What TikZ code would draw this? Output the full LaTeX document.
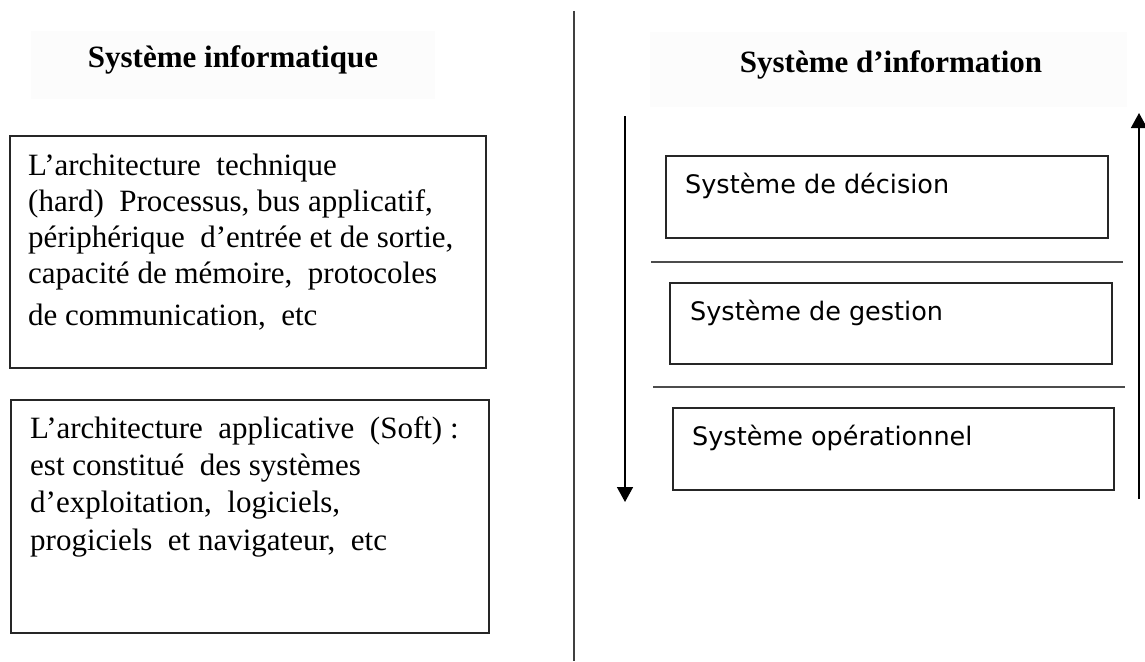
\documentclass[tikz,border=0pt]{standalone}
\usepackage{fontspec}
\setmainfont{Liberation Serif}
\newfontfamily\levelfont{DejaVu Sans}
\usetikzlibrary{arrows.meta}

\begin{document}
\begin{tikzpicture}[x=1pt,y=-1pt,
  frame/.style={draw=black!85, line width=1.6pt, inner sep=0pt, anchor=north west},
  band/.style={fill=black!1, draw=none},
  heading/.style={font=\fontsize{31}{36}\selectfont\bfseries, inner sep=0pt, anchor=base},
  body/.style={align=left, inner sep=0pt, anchor=base west},
  leveltext/.style={font=\levelfont\fontsize{25.5}{30}\selectfont, inner sep=0pt, anchor=base west},
  flow/.style={line width=1.6pt, draw=black, -{Triangle[width=16pt,length=15pt]}},
  rulestyle/.style={line width=1.6pt, draw=black!70}]

\useasboundingbox (0,0) rectangle (1145,661);
\fill[white] (0,0) rectangle (1145,661);

% heading bands
\fill[band] (31,31) rectangle (435,99);
\fill[band] (650,32) rectangle (1127,107);
\node[heading] (tinfo) at (233,67) {Système informatique};
\node[heading] (tsi) at (891,72) {Système d’information};

% dividing line between the two halves
\coordinate (divtop) at (574,11);
\coordinate (divbot) at (574,661);
\draw[line width=1.6pt, draw=black!75] (divtop) -- (divbot);

% left column: two architecture boxes
\node[frame, minimum width=476pt, minimum height=232pt] (hard) at (9,135) {};
\node[frame, minimum width=478pt, minimum height=233pt] (soft) at (10,399) {};

% multi-line texts are placed by the baseline of their last line
\node[body, font=\fontsize{31}{36}\selectfont] (hardtext) at (28,325)
  {L’architecture~ technique\\
   (hard)~ Processus, bus applicatif,\\
   périphérique~ d’entrée et de sortie,\\
   capacité de mémoire,~ protocoles\\[6pt]
   de communication,~ etc};
\node[body, font=\fontsize{31}{37.3}\selectfont] (softtext) at (30,550)
  {L’architecture~ applicative~ (Soft) :\\
   est constitué~ des systèmes\\
   d’exploitation,~ logiciels,\\
   progiciels~ et navigateur,~ etc};

% right column: levels of the information system
\node[frame, minimum width=442pt, minimum height=82pt] (dec) at (665,155) {};
\node[frame, minimum width=442pt, minimum height=81pt] (ges) at (669,282) {};
\node[frame, minimum width=441pt, minimum height=82pt] (ope) at (672,407) {};

\node[leveltext] (dectext) at (685,193) {Système de décision};
\node[leveltext] (gestext) at (690,320) {Système de gestion};
\node[leveltext] (opetext) at (692,445) {Système opérationnel};

\coordinate (s1a) at (651,262);
\coordinate (s1b) at (1123,262);
\coordinate (s2a) at (653,387);
\coordinate (s2b) at (1125,387);
\draw[rulestyle] (s1a) -- (s1b);
\draw[rulestyle] (s2a) -- (s2b);

% flows: downward on the left, upward on the right
\coordinate (downstart) at (625,116);
\coordinate (downend) at (625,502);
\coordinate (upstart) at (1139,499);
\coordinate (upend) at (1139,113);
\draw[flow] (downstart) -- (downend);
\draw[flow] (upstart) -- (upend);
\end{tikzpicture}
\end{document}
